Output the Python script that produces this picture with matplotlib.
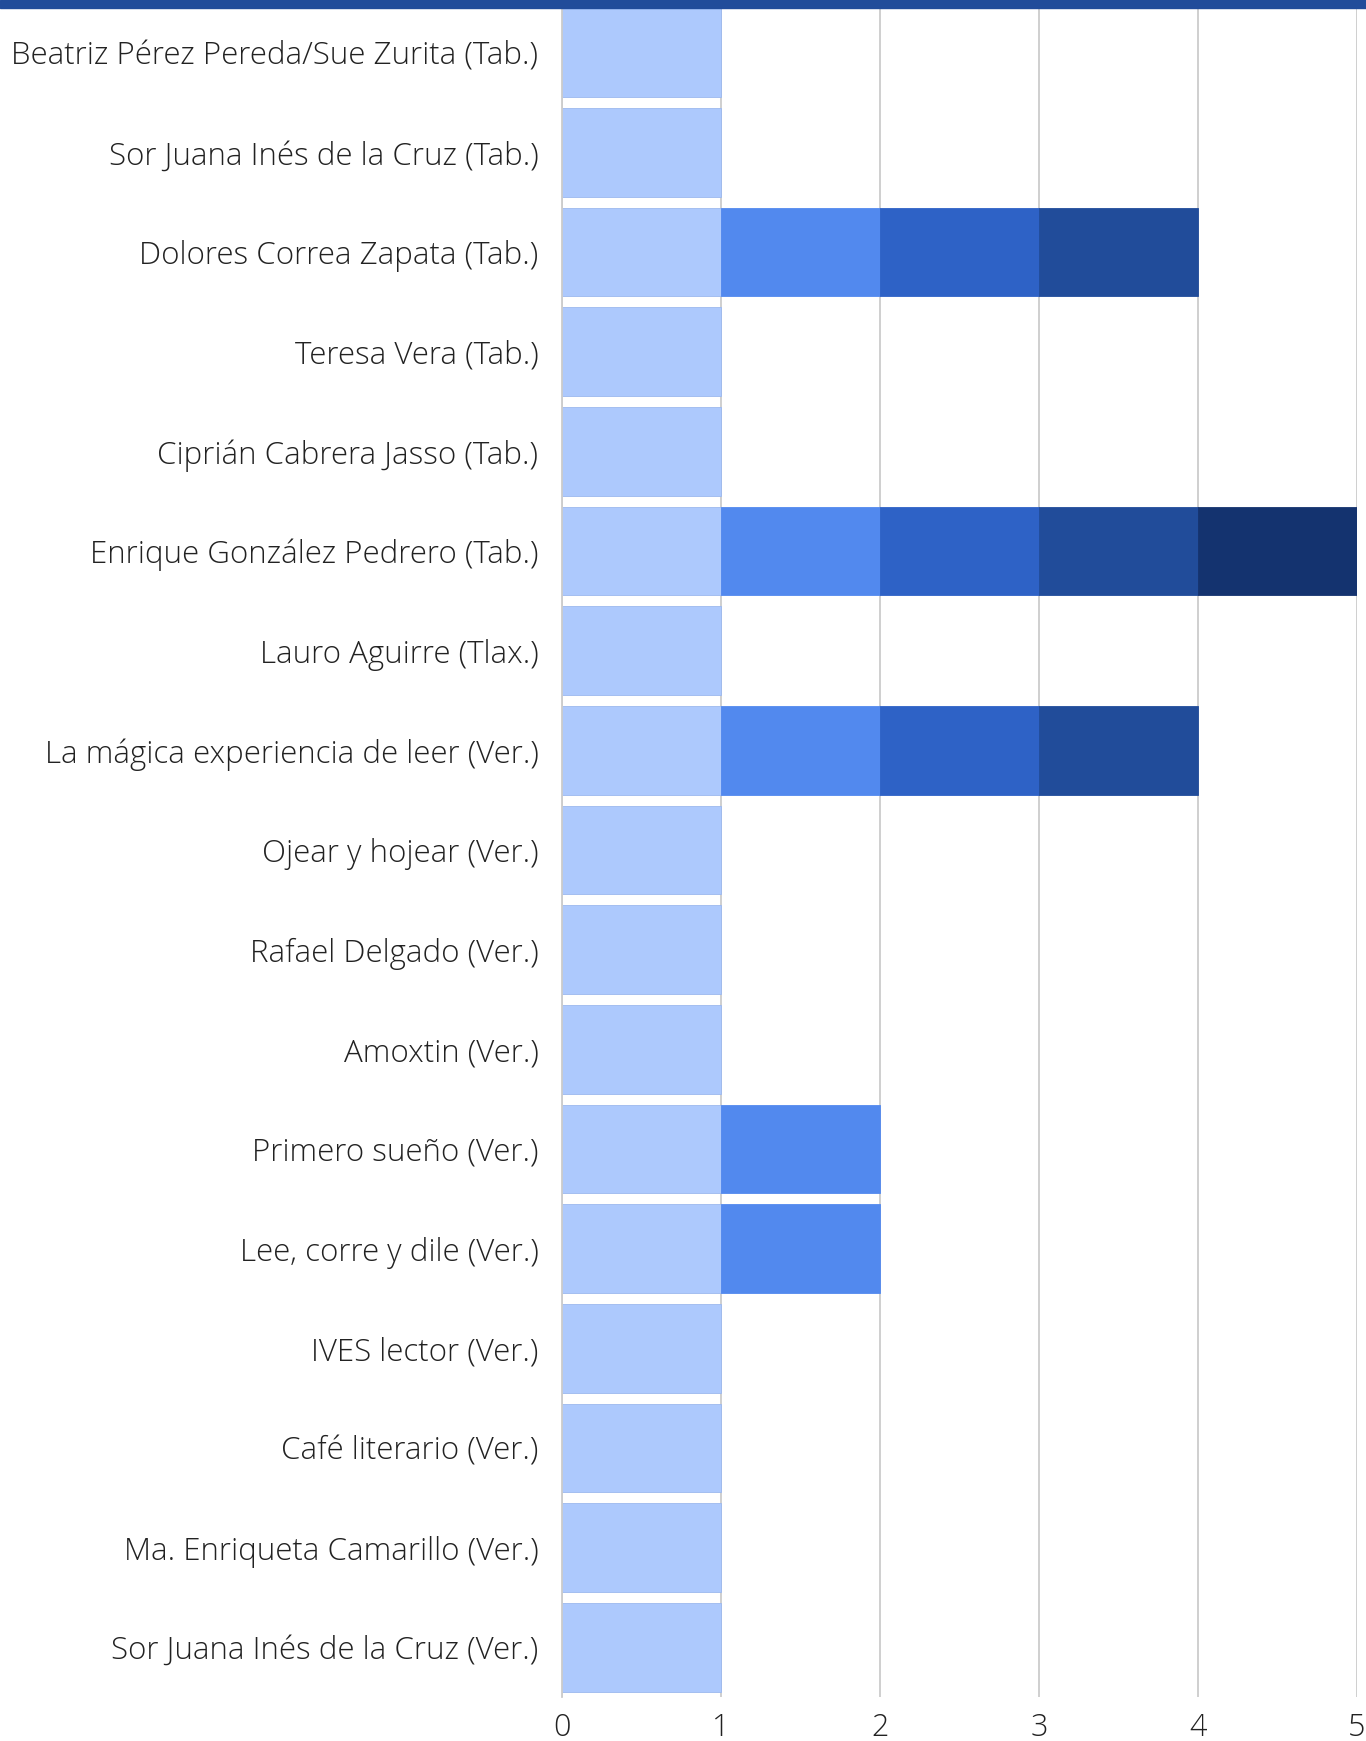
import numpy as np
import matplotlib.pyplot as plt
from matplotlib.patches import Rectangle

plt.rcParams['font.family'] = ['Open Sans Light', 'Open Sans', 'DejaVu Sans']

labels = ['Beatriz Pérez Pereda/Sue Zurita (Tab.)', 'Sor Juana Inés de la Cruz (Tab.)',
          'Dolores Correa Zapata (Tab.)', 'Teresa Vera (Tab.)', 'Ciprián Cabrera Jasso (Tab.)',
          'Enrique González Pedrero (Tab.)', 'Lauro Aguirre (Tlax.)',
          'La mágica experiencia de leer (Ver.)', 'Ojear y hojear (Ver.)', 'Rafael Delgado (Ver.)',
          'Amoxtin (Ver.)', 'Primero sueño (Ver.)', 'Lee, corre y dile (Ver.)', 'IVES lector (Ver.)',
          'Café literario (Ver.)', 'Ma. Enriqueta Camarillo (Ver.)', 'Sor Juana Inés de la Cruz (Ver.)']

s1 = [1, 1, 1, 1, 1, 1, 1, 1, 1, 1, 1, 1, 1, 1, 1, 1, 1]
s2 = [0, 0, 1, 0, 0, 1, 0, 1, 0, 0, 0, 1, 1, 0, 0, 0, 0]
s3 = [0, 0, 1, 0, 0, 1, 0, 1, 0, 0, 0, 0, 0, 0, 0, 0, 0]
s4 = [0, 0, 1, 0, 0, 1, 0, 1, 0, 0, 0, 0, 0, 0, 0, 0, 0]
s5 = [0, 0, 0, 0, 0, 1, 0, 0, 0, 0, 0, 0, 0, 0, 0, 0, 0]

series = [s1, s2, s3, s4, s5]
colors = ['#adc9fd', '#5289ee', '#2e62c6', '#214c9a', '#14336f']

fig = plt.figure(figsize=(13.66, 17.41), dpi=100)
ax = fig.add_axes([562 / 1366, 44 / 1741, 795 / 1366, 1694 / 1741])

y = np.arange(len(labels))
left = np.zeros(len(labels))
for i, (vals, c) in enumerate(zip(series, colors)):
    vals = np.array(vals, dtype=float)
    m = vals > 0
    ec = '#9cb8ee' if i == 0 else c
    ax.barh(y[m], vals[m], left=left[m], height=0.89, color=c, edgecolor=ec,
            linewidth=0.6, zorder=2)
    left += vals

ax.set_ylim(len(labels) - 0.5, -0.5)
ax.set_xlim(0, 5)
ax.set_yticks(y)
ax.set_yticklabels(labels, fontsize=22.5, fontweight='light', color='#222222')
ax.set_xticks(range(6))
ax.set_xticklabels([str(i) for i in range(6)], fontsize=22, fontweight='light', color='#222222')
ax.tick_params(axis='y', length=0, pad=17)
ax.tick_params(axis='x', length=0, pad=11)
ax.xaxis.grid(True, color='#cccccc', linewidth=1.3, zorder=0)
ax.set_axisbelow(True)
for sp in ['top', 'right', 'bottom']:
    ax.spines[sp].set_visible(False)
ax.spines['left'].set_color('#cccccc')
ax.spines['left'].set_linewidth(1.3)

fig.patches.append(Rectangle((0, 1 - 8 / 1741), 1, 8 / 1741, transform=fig.transFigure,
                             color='#214c9a', zorder=10))

fig.savefig('out.png', dpi=100)
